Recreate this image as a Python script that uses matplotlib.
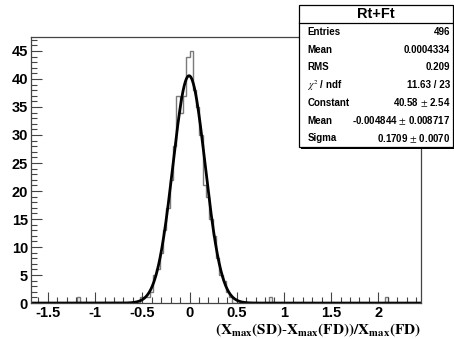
import numpy as np
import matplotlib
matplotlib.use('Agg')
import matplotlib.pyplot as plt
from matplotlib.ticker import MultipleLocator, FormatStrFormatter

# Histogram binning (ROOT style fixed bins)
xmin = -1.68
bin_w = 0.035
nbins = 118

# Bin contents around the peak, starting at bin index 33
first_bin = 33
peak_counts = [1, 1, 1, 2, 5, 6, 9, 13, 17, 22, 28, 37, 34, 37,
               44, 45, 38, 35, 30, 21, 19, 15, 12, 8, 5, 4, 2, 1]
# Isolated single entries far from the peak
outlier_x = [-1.17, 0.85, 2.09]

# Gaussian fit result
fit_const = 40.58
fit_mean = -0.004844
fit_sigma = 0.1709

stat_labels = ['Entries', 'Mean', 'RMS', r'$\chi^2$ / ndf', 'Constant', 'Mean', 'Sigma']
stat_values = ['496', '0.0004334', '0.209', '11.63 / 23', r'40.58 $\pm$ 2.54',
               r'-0.004844 $\pm$ 0.008717', r'0.1709 $\pm$ 0.0070']

edges = xmin + bin_w*np.arange(nbins+1)
counts = np.zeros(nbins)
counts[first_bin:first_bin+len(peak_counts)] = peak_counts
for xo in outlier_x:
    counts[int((xo-xmin)/bin_w)] += 1

plt.rcParams['font.family'] = ['Liberation Sans', 'DejaVu Sans']
plt.rcParams['mathtext.fontset'] = 'stix'
plt.rcParams['axes.unicode_minus'] = False

fig = plt.figure(figsize=(4.54, 3.39), dpi=100)
ax = fig.add_axes([0.068, 0.106, 0.859, 0.785])

ax.stairs(counts, edges, color='#7a7a7a', lw=1.0)
xf = np.linspace(edges[0], edges[-1], 2000)
yf = fit_const*np.exp(-0.5*((xf-fit_mean)/fit_sigma)**2)
ax.plot(xf, yf, color='black', lw=2.0)

ax.set_xlim(edges[0], edges[-1])
ax.set_ylim(0, 47.5)
ax.xaxis.set_major_locator(MultipleLocator(0.5))
ax.xaxis.set_minor_locator(MultipleLocator(0.1))
ax.xaxis.set_major_formatter(FormatStrFormatter('%g'))
ax.yaxis.set_major_locator(MultipleLocator(5))
ax.yaxis.set_minor_locator(MultipleLocator(1))
ax.yaxis.set_major_formatter(FormatStrFormatter('%g'))
ax.tick_params(which='both', direction='in', top=False, right=False,
               color='#444444', width=0.8)
ax.tick_params(which='major', length=8, labelsize=10.5, pad=2)
ax.tick_params(which='minor', length=4)
for lab in ax.get_xticklabels() + ax.get_yticklabels():
    lab.set_fontweight('bold')
for s in ax.spines.values():
    s.set_color('#444444')
    s.set_linewidth(0.9)

ax.set_xlabel(r'$\mathbf{(X_{max}(SD)\text{-}X_{max}(FD))/X_{max}(FD)}$',
              fontsize=11, loc='right', labelpad=1)

# Stats box
bx0, bx1, by0, by1 = 0.659, 0.998, 0.566, 0.985
sep = 0.932
fig.patches.append(plt.Rectangle((bx0+0.004, by0-0.006), bx1-bx0, by1-by0,
                                 transform=fig.transFigure, fc='black', ec='none', zorder=5))
fig.patches.append(plt.Rectangle((bx0, by0), bx1-bx0, by1-by0,
                                 transform=fig.transFigure, fc='white', ec='black',
                                 lw=0.9, zorder=6))
fig.lines.append(plt.Line2D([bx0, bx1], [sep, sep], transform=fig.transFigure,
                            color='black', lw=0.9, zorder=7))
fig.text((bx0+bx1)/2, (sep+by1)/2, 'Rt+Ft', ha='center', va='center',
         fontsize=10.5, fontweight='bold', zorder=8)
row_h = (sep-by0)/len(stat_labels)
for i, (lab, val) in enumerate(zip(stat_labels, stat_values)):
    yy = sep - row_h*(i+0.5)
    fig.text(bx0+0.018, yy, lab, ha='left', va='center', fontsize=7,
             fontweight='bold', zorder=8)
    fig.text(bx1-0.006, yy, val, ha='right', va='center', fontsize=7,
             fontweight='bold', zorder=8)

fig.savefig('out.png', dpi=100)
